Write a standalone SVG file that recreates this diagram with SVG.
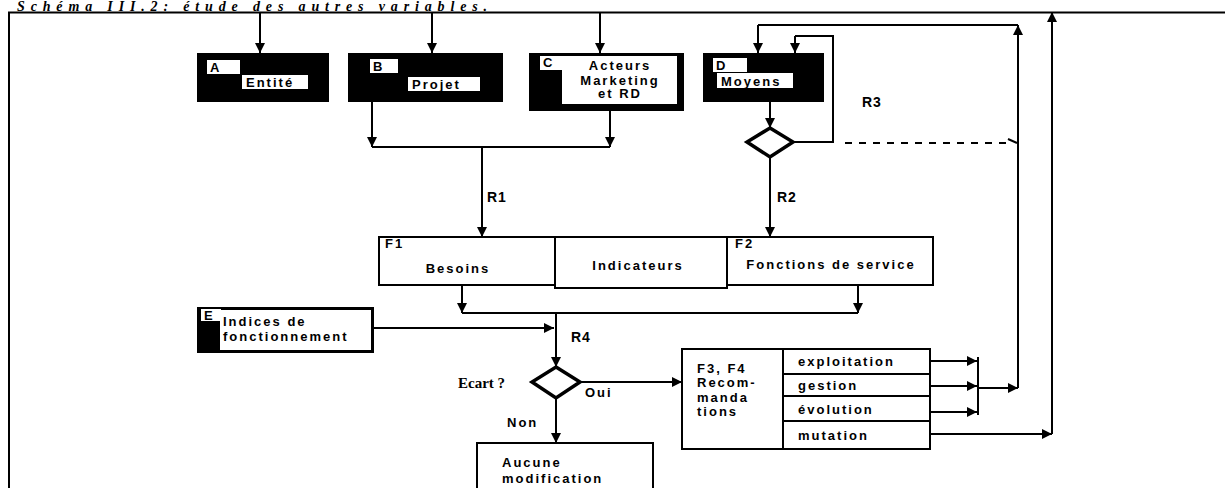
<svg xmlns="http://www.w3.org/2000/svg" width="1225" height="488" viewBox="0 0 1225 488">
<style>
.ln{fill:none;stroke:#000;stroke-width:2}
.ar{fill:none;stroke:#000;stroke-width:2;marker-end:url(#ah)}
.blk{fill:#000}
.wh{fill:#fff}
.box{fill:#fff;stroke:#000;stroke-width:2}
.t{font-family:"Liberation Sans",Arial,sans-serif;font-weight:bold;font-size:13px;letter-spacing:2px;fill:#000}
.tr{font-family:"Liberation Sans",Arial,sans-serif;font-weight:bold;font-size:14px;letter-spacing:1px;fill:#000}
.s{font-family:"Liberation Serif","Times New Roman",serif;font-weight:bold;font-size:15px;fill:#000}
</style>
<defs>
<marker id="ah" viewBox="0 0 10 10" refX="10" refY="5" markerWidth="11" markerHeight="10" markerUnits="userSpaceOnUse" orient="auto">
<path d="M0,0 L10,5 L0,10 Z" fill="#000"/>
</marker>
</defs>
<rect width="1225" height="488" fill="#fff"/>
<text x="17" y="10.5" font-family="'Liberation Serif','Times New Roman',serif" font-weight="bold" font-style="italic" font-size="14" textLength="470" lengthAdjust="spacing">Schéma III.2: étude des autres variables.</text>

<g id="frame">
<path class="ln" stroke-width="3" d="M9,488 V12.5 H1225"/>
</g>

<g id="connectors">
<path class="ar" d="M260,12 V53"/>
<path class="ar" d="M432,12 V53"/>
<path class="ar" d="M600,12 V53"/>
<path class="ar" d="M372,102 V147"/>
<path class="ar" d="M610,111 V147"/>
<path class="ln" d="M372,147 H610"/>
<path class="ar" d="M482,147 V237"/>
<path class="ar" d="M770,102 V128"/>
<path class="ar" d="M770,157 V237"/>
<path class="ln" d="M793,142 H833 V36 H795"/>
<path class="ar" d="M795,36 V53"/>
<path class="ln" d="M845,143 H1006" stroke-dasharray="7,7"/>
<path class="ln" d="M1008,139 L1017,143"/>
<path class="ar" d="M1018,388 V25"/>
<path class="ln" d="M1018,25 H758"/>
<path class="ar" d="M758,25 V53"/>
<path class="ar" d="M930,434 H1052"/>
<path class="ar" d="M1052,434 V12"/>
<path class="ar" d="M462,285 V313"/>
<path class="ar" d="M858,285 V313"/>
<path class="ln" d="M462,313 H858"/>
<path class="ar" d="M556,313 V367"/>
<path class="ar" d="M374,328 H554"/>
<path class="ar" d="M580,382 H682"/>
<path class="ar" d="M556,398 V443"/>
<path class="ar" d="M930,361 H977"/>
<path class="ar" d="M930,386 H977"/>
<path class="ar" d="M930,412 H977"/>
<path class="ln" d="M978,357 V415"/>
<path class="ar" d="M978,388 H1018"/>
</g>

<g id="nodeA">
<rect class="blk" x="197" y="53" width="132" height="49"/>
<rect class="wh" x="207" y="60" width="33" height="14"/>
<rect class="wh" x="242" y="75" width="66" height="14"/>
<text class="t" x="210" y="72">A</text>
<text class="t" x="246" y="87">Entité</text>
</g>

<g id="nodeB">
<rect class="blk" x="348" y="53" width="155" height="49"/>
<rect class="wh" x="370" y="59" width="28" height="14"/>
<rect class="wh" x="408" y="77" width="72" height="14"/>
<text class="t" x="373" y="71">B</text>
<text class="t" x="412" y="89">Projet</text>
</g>

<g id="nodeC">
<rect class="blk" x="529" y="53" width="155" height="58"/>
<path class="wh" d="M540,56 H677 V104 H562 V70 H540 Z"/>
<text class="t" x="543" y="67">C</text>
<text class="t" x="620" y="70" text-anchor="middle">Acteurs</text>
<text class="t" x="620" y="85" text-anchor="middle">Marketing</text>
<text class="t" x="620" y="98" text-anchor="middle">et RD</text>
</g>

<g id="nodeD">
<rect class="blk" x="703" y="53" width="121" height="49"/>
<rect class="wh" x="713" y="58" width="34" height="14"/>
<rect class="wh" x="717" y="73" width="76" height="15"/>
<text class="t" x="716" y="70">D</text>
<text class="t" x="721" y="86">Moyens</text>
</g>

<g id="diamond1">
<path d="M770,128 L793,142 L770,157 L747,142 Z" fill="#fff" stroke="#000" stroke-width="3.5"/>
</g>

<g id="labels">
<text class="tr" x="487" y="202">R1</text>
<text class="tr" x="777" y="202">R2</text>
<text class="tr" x="862" y="107">R3</text>
<text class="tr" x="571" y="342">R4</text>
<text class="s" x="458" y="388">Ecart ?</text>
<text class="t" x="585" y="397">Oui</text>
<text class="t" x="507" y="427">Non</text>
</g>

<g id="nodeF1">
<rect class="box" x="379" y="237" width="176" height="48"/>
<text class="t" x="385" y="248">F1</text>
<text class="t" x="458" y="273" text-anchor="middle">Besoins</text>
</g>
<g id="nodeInd">
<rect class="box" x="555" y="237" width="172" height="51"/>
<text class="t" x="638" y="270" text-anchor="middle">Indicateurs</text>
</g>
<g id="nodeF2">
<rect class="box" x="727" y="237" width="206" height="48"/>
<text class="t" x="735" y="248">F2</text>
<text class="t" x="831" y="269" text-anchor="middle">Fonctions de service</text>
</g>

<g id="nodeE">
<rect class="blk" x="197" y="307" width="177" height="46"/>
<rect class="wh" x="220" y="310" width="151" height="40"/>
<rect class="wh" x="201" y="309" width="20" height="12"/>
<text class="t" x="204" y="320" font-size="12">E</text>
<text class="t" x="223" y="326">Indices de</text>
<text class="t" x="223" y="341">fonctionnement</text>
</g>

<g id="diamond2">
<path d="M556,367 L580,382 L556,398 L532,382 Z" fill="#fff" stroke="#000" stroke-width="3.5"/>
</g>

<g id="nodeAucune">
<rect class="box" x="477" y="443" width="176" height="60"/>
<text class="t" x="502" y="467">Aucune</text>
<text class="t" x="502" y="483">modification</text>
</g>

<g id="nodeF3">
<rect class="box" x="682" y="349" width="248" height="100"/>
<path class="ln" d="M783,349 V449 M783,374 H930 M783,396 H930 M783,421 H930"/>
<text class="t" x="697" y="373">F3, F4</text>
<text class="t" x="697" y="387">Recom-</text>
<text class="t" x="697" y="402">manda</text>
<text class="t" x="697" y="416">tions</text>
<text class="t" x="798" y="366">exploitation</text>
<text class="t" x="798" y="390">gestion</text>
<text class="t" x="798" y="414">évolution</text>
<text class="t" x="798" y="440">mutation</text>
</g>
</svg>
